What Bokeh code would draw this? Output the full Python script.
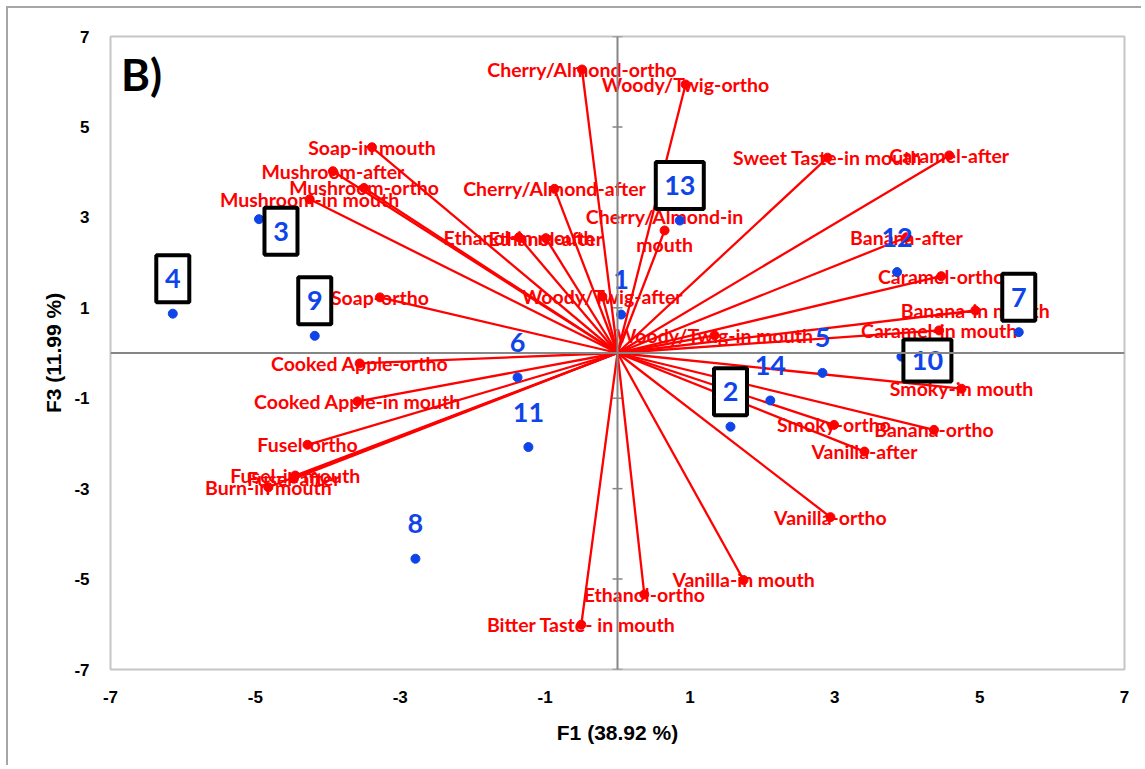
from bokeh.plotting import figure
from bokeh.models import Range1d, FixedTicker, Span, Label
from bokeh.core.properties import value
from bokeh.embed import file_html
from bokeh.resources import INLINE

# ---------------- data ----------------
attributes = [
    "Cherry/Almond-ortho", "Woody/Twig-ortho", "Soap-in mouth", "Mushroom-after",
    "Mushroom-ortho", "Mushroom-in mouth", "Cherry/Almond-after", "Ethanol-in mouth",
    "Ethanol-after", "Cherry/Almond-in\nmouth", "Sweet Taste-in mouth", "Caramel-after",
    "Banana-after", "Caramel-ortho", "Banana-in mouth", "Caramel-in mouth",
    "Woody/Twig-after", "Woody/Twig-in mouth", "Soap-ortho", "Cooked Apple-ortho",
    "Cooked Apple-in mouth", "Fusel-ortho", "Fusel-in mouth", "Fusel-after",
    "Burn-in mouth", "Bitter Taste- in mouth", "Ethanol-ortho", "Vanilla-in mouth",
    "Vanilla-ortho", "Vanilla-after", "Smoky-ortho", "Banana-ortho", "Smoky-in mouth",
]
attr_f1 = [-0.49, 0.94, -3.39, -3.93, -3.50, -4.25, -0.87, -1.36, -0.99, 0.65, 2.90, 4.58,
           3.99, 4.47, 4.94, 4.44, -0.21, 1.34, -3.28, -3.56, -3.59, -4.28, -4.45, -4.47,
           -4.82, -0.50, 0.37, 1.74, 2.94, 3.41, 2.99, 4.37, 4.75]
attr_f3 = [6.27, 5.94, 4.55, 4.02, 3.65, 3.40, 3.63, 2.56, 2.54, 2.71, 4.32, 4.37,
           2.56, 1.70, 0.94, 0.50, 1.25, 0.39, 1.23, -0.23, -1.07, -2.03, -2.71, -2.78,
           -2.97, -6.01, -5.34, -5.02, -3.63, -2.18, -1.59, -1.70, -0.79]

samples = ["1", "2", "3", "4", "5", "6", "7", "8", "9", "10", "11", "12", "13", "14"]
sample_f1 = [0.05, 1.56, -4.95, -6.14, 2.83, -1.38, 5.54, -2.79, -4.18, 3.92, -1.23, 3.86, 0.86, 2.11]
sample_f3 = [0.85, -1.63, 2.96, 0.87, -0.44, -0.54, 0.46, -4.55, 0.38, -0.08, -2.08, 1.79, 2.93, -1.05]
boxed = ["2", "3", "4", "7", "9", "10", "13"]

ticks = [-7, -5, -3, -1, 1, 3, 5, 7]
tick_labels = ["-7", "-5", "-3", "-1", "1", "3", "5", "7"]
x_title = "F1 (38.92 %)"
y_title = "F3 (11.99 %)"
panel_tag = "B)"

# ---------------- layout ----------------
W, H = 1135, 759
ML, MT, MR, MB = 102, 28, 19, 98
FW, FH = W - ML - MR, H - MT - MB
XPX = FW / 14.0
YPX = FH / 14.0

RED = "#ff0000"
BLUE = "#0f45e8"
GRAY = "#868686"

p = figure(width=W, height=H, x_range=Range1d(-7, 7), y_range=Range1d(-7, 7),
           output_backend="svg", toolbar_location=None,
           min_border_left=ML, min_border_right=MR, min_border_top=MT, min_border_bottom=MB)
p.styles = {"margin-left": "6px", "margin-top": "6px",
            "border-left": "2px solid #a6a6a6", "border-top": "2px solid #a6a6a6"}
p.background_fill_color = "white"
p.border_fill_color = "white"
p.outline_line_color = "#c6c6c6"
p.outline_line_width = 2
p.xgrid.visible = False
p.ygrid.visible = False

for ax in (p.xaxis[0], p.yaxis[0]):
    ax.ticker = FixedTicker(ticks=ticks)
    ax.major_label_overrides = {t: s for t, s in zip(ticks, tick_labels)}
    ax.axis_line_color = None
    ax.major_tick_line_color = None
    ax.minor_tick_line_color = None
    ax.major_tick_out = 0
    ax.major_tick_in = 0
    ax.major_label_text_font = "Liberation Sans"
    ax.major_label_text_font_style = "bold"
    ax.major_label_text_font_size = "17px"
    ax.major_label_text_color = "black"
    ax.axis_label_text_font = "Liberation Sans"
    ax.axis_label_text_font_style = "bold"
    ax.axis_label_text_font_size = "21px"
    ax.axis_label_text_color = "black"

p.xaxis.axis_label = x_title
p.yaxis.axis_label = y_title
p.xaxis.major_label_standoff = 21
p.yaxis.major_label_standoff = 21
p.xaxis.axis_label_standoff = 15
p.yaxis.axis_label_standoff = 6

# central axes
p.add_layout(Span(location=0, dimension="height", line_color=GRAY, line_width=2))
p.add_layout(Span(location=0, dimension="width", line_color=GRAY, line_width=2))
p.scatter(x=[0] * len(ticks), y=ticks, marker="dash", size=10, line_color=GRAY, line_width=1.5)

# loading vectors
p.segment(x0=[0] * len(attr_f1), y0=[0] * len(attr_f1), x1=attr_f1, y1=attr_f3,
          line_color=RED, line_width=2.3)
p.scatter(x=attr_f1, y=attr_f3, size=9, fill_color=RED, line_color=RED)
p.text(x=attr_f1, y=attr_f3, text=attributes, text_color=RED,
       text_font=value("Lato"), text_font_style="bold", text_font_size="19.5px",
       text_align="center", text_baseline="middle", text_line_height=1.18)

# observations
p.scatter(x=sample_f1, y=sample_f3, size=9, fill_color=BLUE, line_color=BLUE)

# label positions (screen offsets from each point: right, down)
off = {"3": (22, 12), "10": (26, 4)}
lab_x, lab_y = [], []
for s, xv, yv in zip(samples, sample_f1, sample_f3):
    dx, dy = off.get(s, (0, -35))
    lab_x.append(xv + dx / XPX)
    lab_y.append(yv - dy / YPX)

bx = [lx for s, lx in zip(samples, lab_x) if s in boxed]
by = [ly for s, ly in zip(samples, lab_y) if s in boxed]
bw = [48 if len(s) == 2 else 33 for s in samples if s in boxed]
bh = [42 if s == "10" else 47 for s in samples if s in boxed]
p.rect(x=bx, y=by, width=bw, height=bh, width_units="screen", height_units="screen",
       fill_color="white", line_color="black", line_width=4)

p.text(x=lab_x, y=lab_y, text=samples, text_color=BLUE,
       text_font=value("Lato"), text_font_style="bold", text_font_size="27px",
       text_align="center", text_baseline="middle")

p.add_layout(Label(x=-6.57, y=6.16, text=panel_tag, text_font="Lato", text_font_style="bold",
                   text_font_size="44px", text_color="black",
                   text_align="center", text_baseline="middle"))

open("out.html", "w").write(file_html(p, INLINE))
